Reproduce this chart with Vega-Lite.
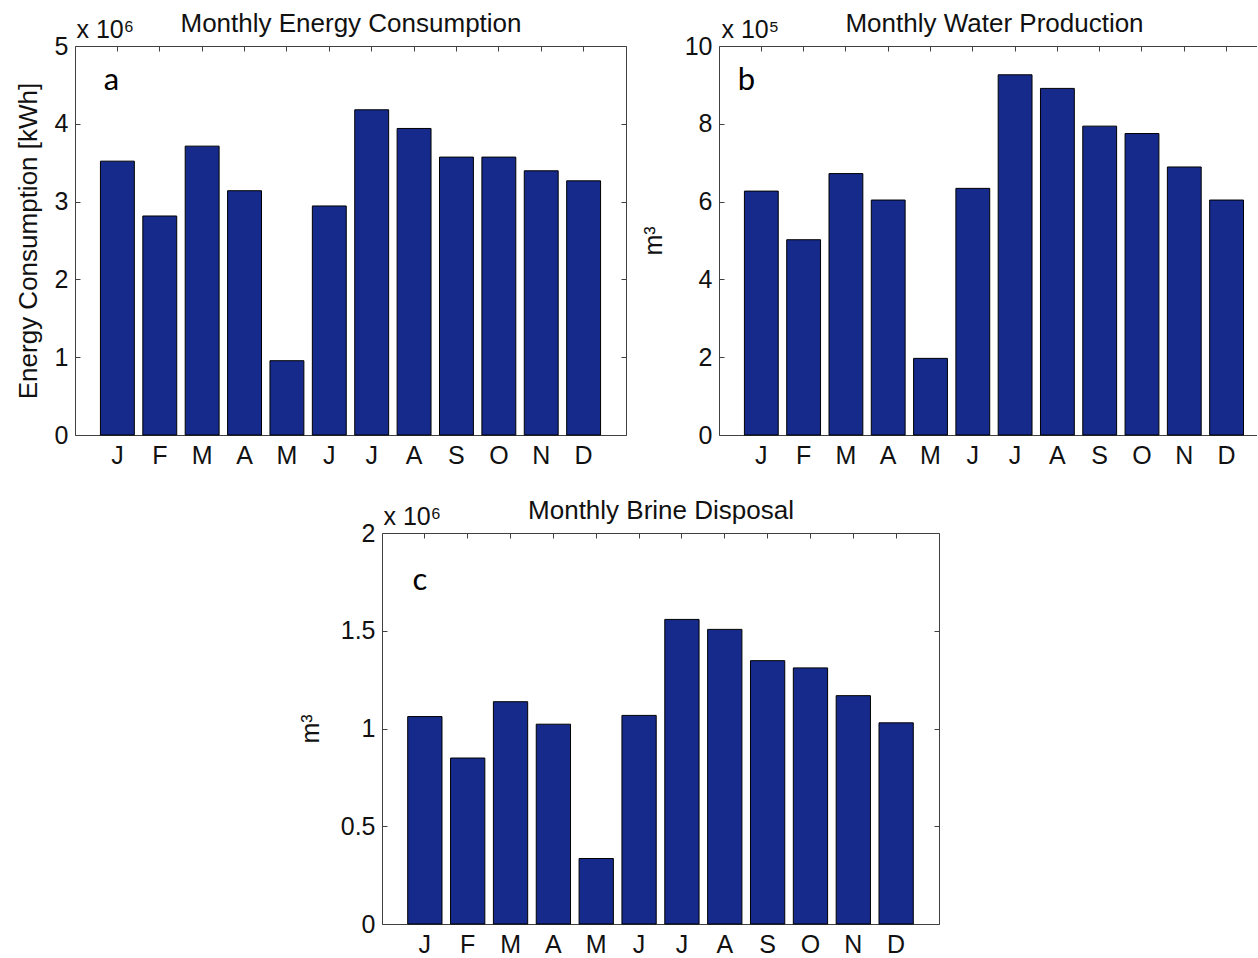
{
  "$schema": "https://vega.github.io/schema/vega-lite/v6.json",
  "padding": {"left": 14, "top": 9, "right": 0, "bottom": 0},
  "background": "white",
  "data": {
    "values": [
      {"month": "Jan", "energy_kwh": 3520000, "water_m3": 627000, "brine_m3": 1061000},
      {"month": "Feb", "energy_kwh": 2815000, "water_m3": 502000, "brine_m3": 849000},
      {"month": "Mar", "energy_kwh": 3713000, "water_m3": 672000, "brine_m3": 1137000},
      {"month": "Apr", "energy_kwh": 3140000, "water_m3": 604000, "brine_m3": 1022000},
      {"month": "May", "energy_kwh": 955000, "water_m3": 197000, "brine_m3": 335000},
      {"month": "Jun", "energy_kwh": 2944000, "water_m3": 634000, "brine_m3": 1067000},
      {"month": "Jul", "energy_kwh": 4180000, "water_m3": 926000, "brine_m3": 1558000},
      {"month": "Aug", "energy_kwh": 3940000, "water_m3": 891000, "brine_m3": 1507000},
      {"month": "Sep", "energy_kwh": 3572000, "water_m3": 794000, "brine_m3": 1347000},
      {"month": "Oct", "energy_kwh": 3572000, "water_m3": 775000, "brine_m3": 1310000},
      {"month": "Nov", "energy_kwh": 3396000, "water_m3": 689000, "brine_m3": 1168000},
      {"month": "Dec", "energy_kwh": 3267000, "water_m3": 604000, "brine_m3": 1029000}
    ]
  },
  "config": {
    "font": "Liberation Sans",
    "view": {"stroke": "#404040", "strokeWidth": 1},
    "axis": {
      "labelFont": "Liberation Sans", "labelFontSize": 25, "labelColor": "#111",
      "titleFont": "Liberation Sans", "titleFontSize": 25, "titleFontWeight": "normal", "titleColor": "#111",
      "grid": false, "tickColor": "#404040", "tickWidth": 1, "domainColor": "#404040", "domainWidth": 1
    }
  },
  "spacing": 487,
  "bounds": "flush",
  "vconcat": [
    {
      "spacing": 93,
      "bounds": "flush",
      "hconcat": [
        {
          "width": 551, "height": 389,
          "layer": [
            {
              "mark": {"type": "bar", "fill": "#152a8a", "stroke": "#000", "strokeWidth": 1},
              "encoding": {
                "x": {"field": "month", "type": "ordinal",
                  "scale": {"domain": ["Jan","Feb","Mar","Apr","May","Jun","Jul","Aug","Sep","Oct","Nov","Dec"], "paddingInner": 0.2, "paddingOuter": 0.6},
                  "axis": {"orient": "bottom", "title": null, "ticks": false, "domain": false, "labelAngle": 0, "labelExpr": "substring(datum.label, 0, 1)", "labelPadding": 8}},
                "y": {"field": "energy_kwh", "type": "quantitative",
                  "scale": {"domain": [0, 5000000], "nice": false},
                  "axis": {"orient": "left", "title": "Energy Consumption [kWh]", "titleFontSize": 26, "values": [0, 1000000, 2000000, 3000000, 4000000, 5000000], "labelExpr": "datum.value / 1000000", "tickSize": -5, "labelPadding": 12, "domain": false, "titlePadding": 13}}
              }
            },
            {
              "mark": {"type": "bar", "opacity": 0},
              "encoding": {
                "x": {"field": "month", "type": "ordinal",
                  "scale": {"domain": ["Jan","Feb","Mar","Apr","May","Jun","Jul","Aug","Sep","Oct","Nov","Dec"], "paddingInner": 0.2, "paddingOuter": 0.6},
                  "axis": {"orient": "top", "title": "Monthly Energy Consumption", "labels": false, "tickSize": -5, "domain": false, "titleY": -15, "titleBaseline": "alphabetic", "titleFontSize": 26}},
                "y": {"field": "energy_kwh", "type": "quantitative",
                  "scale": {"domain": [0, 5000000], "nice": false},
                  "axis": {"orient": "right", "title": "x 10⁶", "labels": false, "tickSize": -5, "values": [0, 1000000, 2000000, 3000000, 4000000, 5000000], "domain": false, "titleAngle": 0, "titleAlign": "left", "titleBaseline": "alphabetic", "titleX": -550, "titleY": -9}}
              }
            },
            {
              "data": {"values": [{"panel": "a"}]},
              "mark": {"type": "text", "font": "Lato", "fontSize": 31, "baseline": "alphabetic", "align": "center", "dx": -6, "color": "#000"},
              "encoding": {
                "x": {"datum": "Jan", "type": "ordinal", "axis": null,
                  "scale": {"domain": ["Jan","Feb","Mar","Apr","May","Jun","Jul","Aug","Sep","Oct","Nov","Dec"], "paddingInner": 0.2, "paddingOuter": 0.6}},
                "y": {"datum": 4430000, "type": "quantitative", "axis": null, "scale": {"domain": [0, 5000000], "nice": false}},
                "text": {"field": "panel"}
              }
            }
          ],
          "resolve": {"axis": {"x": "independent", "y": "independent"}}
        },
        {
          "width": 538, "height": 389,
          "view": {"stroke": null},
          "layer": [
            {
              "mark": {"type": "bar", "fill": "#152a8a", "stroke": "#000", "strokeWidth": 1},
              "encoding": {
                "x": {"field": "month", "type": "ordinal",
                  "scale": {"domain": ["Jan","Feb","Mar","Apr","May","Jun","Jul","Aug","Sep","Oct","Nov","Dec"], "paddingInner": 0.2, "paddingOuter": 0.46, "align": 0.653},
                  "axis": {"orient": "bottom", "title": null, "ticks": false, "domain": true, "labelAngle": 0, "labelExpr": "substring(datum.label, 0, 1)", "labelPadding": 8}},
                "y": {"field": "water_m3", "type": "quantitative",
                  "scale": {"domain": [0, 1000000], "nice": false},
                  "axis": {"orient": "left", "title": "m³", "values": [0, 200000, 400000, 600000, 800000, 1000000], "labelExpr": "datum.value / 100000", "tickSize": -5, "labelPadding": 12, "domain": true, "titlePadding": 18}}
              }
            },
            {
              "mark": {"type": "bar", "opacity": 0},
              "encoding": {
                "x": {"field": "month", "type": "ordinal",
                  "scale": {"domain": ["Jan","Feb","Mar","Apr","May","Jun","Jul","Aug","Sep","Oct","Nov","Dec"], "paddingInner": 0.2, "paddingOuter": 0.46, "align": 0.653},
                  "axis": {"orient": "top", "title": "Monthly Water Production", "labels": false, "tickSize": -5, "domain": true, "titleY": -15, "titleBaseline": "alphabetic", "titleFontSize": 26, "titleX": 275}},
                "y": {"field": "water_m3", "type": "quantitative",
                  "scale": {"domain": [0, 1000000], "nice": false},
                  "axis": {"orient": "right", "title": "x 10⁵", "labels": false, "ticks": false, "domain": false, "titleAngle": 0, "titleAlign": "left", "titleBaseline": "alphabetic", "titleX": -536, "titleY": -9}}
              }
            },
            {
              "data": {"values": [{"panel": "b"}]},
              "mark": {"type": "text", "font": "Lato", "fontSize": 31, "baseline": "alphabetic", "align": "center", "dx": -15, "color": "#000"},
              "encoding": {
                "x": {"datum": "Jan", "type": "ordinal", "axis": null,
                  "scale": {"domain": ["Jan","Feb","Mar","Apr","May","Jun","Jul","Aug","Sep","Oct","Nov","Dec"], "paddingInner": 0.2, "paddingOuter": 0.46, "align": 0.653}},
                "y": {"datum": 887000, "type": "quantitative", "axis": null, "scale": {"domain": [0, 1000000], "nice": false}},
                "text": {"field": "panel"}
              }
            }
          ],
          "resolve": {"axis": {"x": "independent", "y": "independent"}}
        }
      ]
    },
    {
      "spacing": 107,
      "bounds": "flush",
      "hconcat": [
        {
          "width": 200, "height": 391,
          "view": {"stroke": null},
          "data": {"values": [{"panel": ""}]},
          "mark": {"type": "text"},
          "encoding": {"text": {"field": "panel"}}
        },
        {
          "width": 557, "height": 391,
          "layer": [
            {
              "mark": {"type": "bar", "fill": "#152a8a", "stroke": "#000", "strokeWidth": 1},
              "encoding": {
                "x": {"field": "month", "type": "ordinal",
                  "scale": {"domain": ["Jan","Feb","Mar","Apr","May","Jun","Jul","Aug","Sep","Oct","Nov","Dec"], "paddingInner": 0.2, "paddingOuter": 0.6},
                  "axis": {"orient": "bottom", "title": null, "ticks": false, "domain": false, "labelAngle": 0, "labelExpr": "substring(datum.label, 0, 1)", "labelPadding": 8}},
                "y": {"field": "brine_m3", "type": "quantitative",
                  "scale": {"domain": [0, 2000000], "nice": false},
                  "axis": {"orient": "left", "title": "m³", "values": [0, 500000, 1000000, 1500000, 2000000], "labelExpr": "datum.value / 1000000", "tickSize": -5, "labelPadding": 12, "domain": false, "titlePadding": 17}}
              }
            },
            {
              "mark": {"type": "bar", "opacity": 0},
              "encoding": {
                "x": {"field": "month", "type": "ordinal",
                  "scale": {"domain": ["Jan","Feb","Mar","Apr","May","Jun","Jul","Aug","Sep","Oct","Nov","Dec"], "paddingInner": 0.2, "paddingOuter": 0.6},
                  "axis": {"orient": "top", "title": "Monthly Brine Disposal", "labels": false, "tickSize": -5, "domain": false, "titleY": -15, "titleBaseline": "alphabetic", "titleFontSize": 26}},
                "y": {"field": "brine_m3", "type": "quantitative",
                  "scale": {"domain": [0, 2000000], "nice": false},
                  "axis": {"orient": "right", "title": "x 10⁶", "labels": false, "tickSize": -5, "values": [0, 500000, 1000000, 1500000, 2000000], "domain": false, "titleAngle": 0, "titleAlign": "left", "titleBaseline": "alphabetic", "titleX": -556, "titleY": -9}}
              }
            },
            {
              "data": {"values": [{"panel": "c"}]},
              "mark": {"type": "text", "font": "Lato", "fontSize": 31, "baseline": "alphabetic", "align": "center", "dx": -5, "color": "#000"},
              "encoding": {
                "x": {"datum": "Jan", "type": "ordinal", "axis": null,
                  "scale": {"domain": ["Jan","Feb","Mar","Apr","May","Jun","Jul","Aug","Sep","Oct","Nov","Dec"], "paddingInner": 0.2, "paddingOuter": 0.6}},
                "y": {"datum": 1708000, "type": "quantitative", "axis": null, "scale": {"domain": [0, 2000000], "nice": false}},
                "text": {"field": "panel"}
              }
            }
          ],
          "resolve": {"axis": {"x": "independent", "y": "independent"}}
        }
      ]
    }
  ]
}
